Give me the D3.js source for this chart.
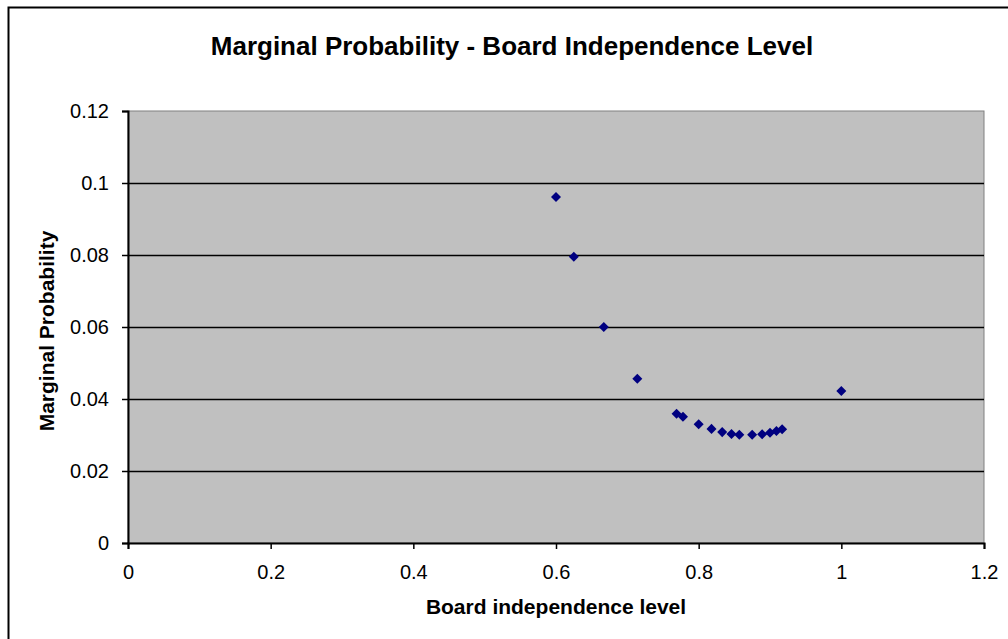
<!DOCTYPE html>
<html>
<head>
<meta charset="utf-8">
<script src="https://cdn.jsdelivr.net/npm/d3@7"></script>
<style>
  body { margin: 0; background: #fff; }
  svg { display: block; font-family: "Liberation Sans", Arial, sans-serif; }
</style>
</head>
<body>
<svg id="chart" width="1008" height="639"></svg>
<script>
// board independence level (x) and marginal probability (y)
const independence = [0.6, 0.625, 0.667, 0.714, 0.769, 0.778, 0.8, 0.818, 0.833, 0.846,
    0.857, 0.875, 0.889, 0.9, 0.909, 0.917, 1.0];
const marginalProb = [0.0961, 0.0795, 0.0600, 0.0456, 0.0359, 0.0351, 0.0330, 0.0317, 0.0308, 0.0303,
    0.0301, 0.0301, 0.0302, 0.0306, 0.0311, 0.0316, 0.0422];
const xTicks = [0, 0.2, 0.4, 0.6, 0.8, 1, 1.2];
const yTicks = [0, 0.02, 0.04, 0.06, 0.08, 0.1, 0.12];

const svg = d3.select("#chart");
const margin = { top: 111, right: 24, bottom: 96, left: 128 };
const width = +svg.attr("width");
const height = +svg.attr("height");

const x = d3.scaleLinear()
    .domain([0, 1.2])
    .range([margin.left, width - margin.right]);

const y = d3.scaleLinear()
    .domain([0, 0.12])
    .range([height - margin.bottom, margin.top]);

// outer chart frame (runs off the right/bottom edge like the reference)
svg.append("rect")
    .attr("x", 8.5).attr("y", 7.5)
    .attr("width", 1100).attr("height", 700)
    .attr("fill", "none")
    .attr("stroke", "#000")
    .attr("stroke-width", 2);

// plot area
svg.append("rect")
    .attr("x", x(0)).attr("y", y(0.12))
    .attr("width", x(1.2) - x(0))
    .attr("height", y(0) - y(0.12))
    .attr("fill", "#c0c0c0")
    .attr("stroke", "#808080")
    .attr("stroke-width", 1);

// gridlines
svg.append("g")
    .selectAll("line")
    .data(yTicks.filter(d => d > 0 && d < 0.12))
    .join("line")
    .attr("x1", x(0)).attr("x2", x(1.2))
    .attr("y1", d => Math.round(y(d)) + 0.5)
    .attr("y2", d => Math.round(y(d)) + 0.5)
    .attr("stroke", "#000")
    .attr("stroke-width", 1.3);

// Y axis
const yAxis = svg.append("g")
    .attr("transform", `translate(${x(0)}, 0)`)
    .call(d3.axisLeft(y).tickValues(yTicks).tickFormat(d => d3.format("")(+d.toFixed(2))).tickSizeOuter(0).tickSize(6).tickPadding(13));

// X axis
const xAxis = svg.append("g")
    .attr("transform", `translate(0, ${y(0)})`)
    .call(d3.axisBottom(x).tickValues(xTicks).tickFormat(d => d3.format("")(+d.toFixed(1))).tickSizeOuter(0).tickSize(6).tickPadding(16));

[yAxis, xAxis].forEach(a => {
    a.select(".domain").attr("stroke", "#000").attr("stroke-width", 2);
    a.selectAll(".tick line").attr("stroke", "#000").attr("stroke-width", 1.5);
    a.selectAll("text")
        .attr("fill", "#000")
        .style("font-size", "20px")
        .style("font-family", "'Liberation Sans', Arial, sans-serif");
});

// points (diamonds)
const diamond = d3.symbol().type(d3.symbolDiamond2).size(64);
svg.append("g")
    .selectAll("path")
    .data(independence.map((v, i) => ({ x: v, y: marginalProb[i] })))
    .join("path")
    .attr("transform", d => `translate(${x(d.x)}, ${y(d.y)})`)
    .attr("d", diamond)
    .attr("fill", "#000080");

// title
svg.append("text")
    .attr("x", 512)
    .attr("y", 55)
    .attr("text-anchor", "middle")
    .style("font-size", "26px")
    .style("font-weight", "bold")
    .text("Marginal Probability - Board Independence Level");

// axis titles
svg.append("text")
    .attr("x", (x(0) + x(1.2)) / 2)
    .attr("y", 614)
    .attr("text-anchor", "middle")
    .style("font-size", "21px")
    .style("font-weight", "bold")
    .text("Board independence level");

svg.append("text")
    .attr("transform", "rotate(-90)")
    .attr("x", -331)
    .attr("y", 54)
    .attr("text-anchor", "middle")
    .style("font-size", "21px")
    .style("font-weight", "bold")
    .text("Marginal Probability");
</script>
</body>
</html>
